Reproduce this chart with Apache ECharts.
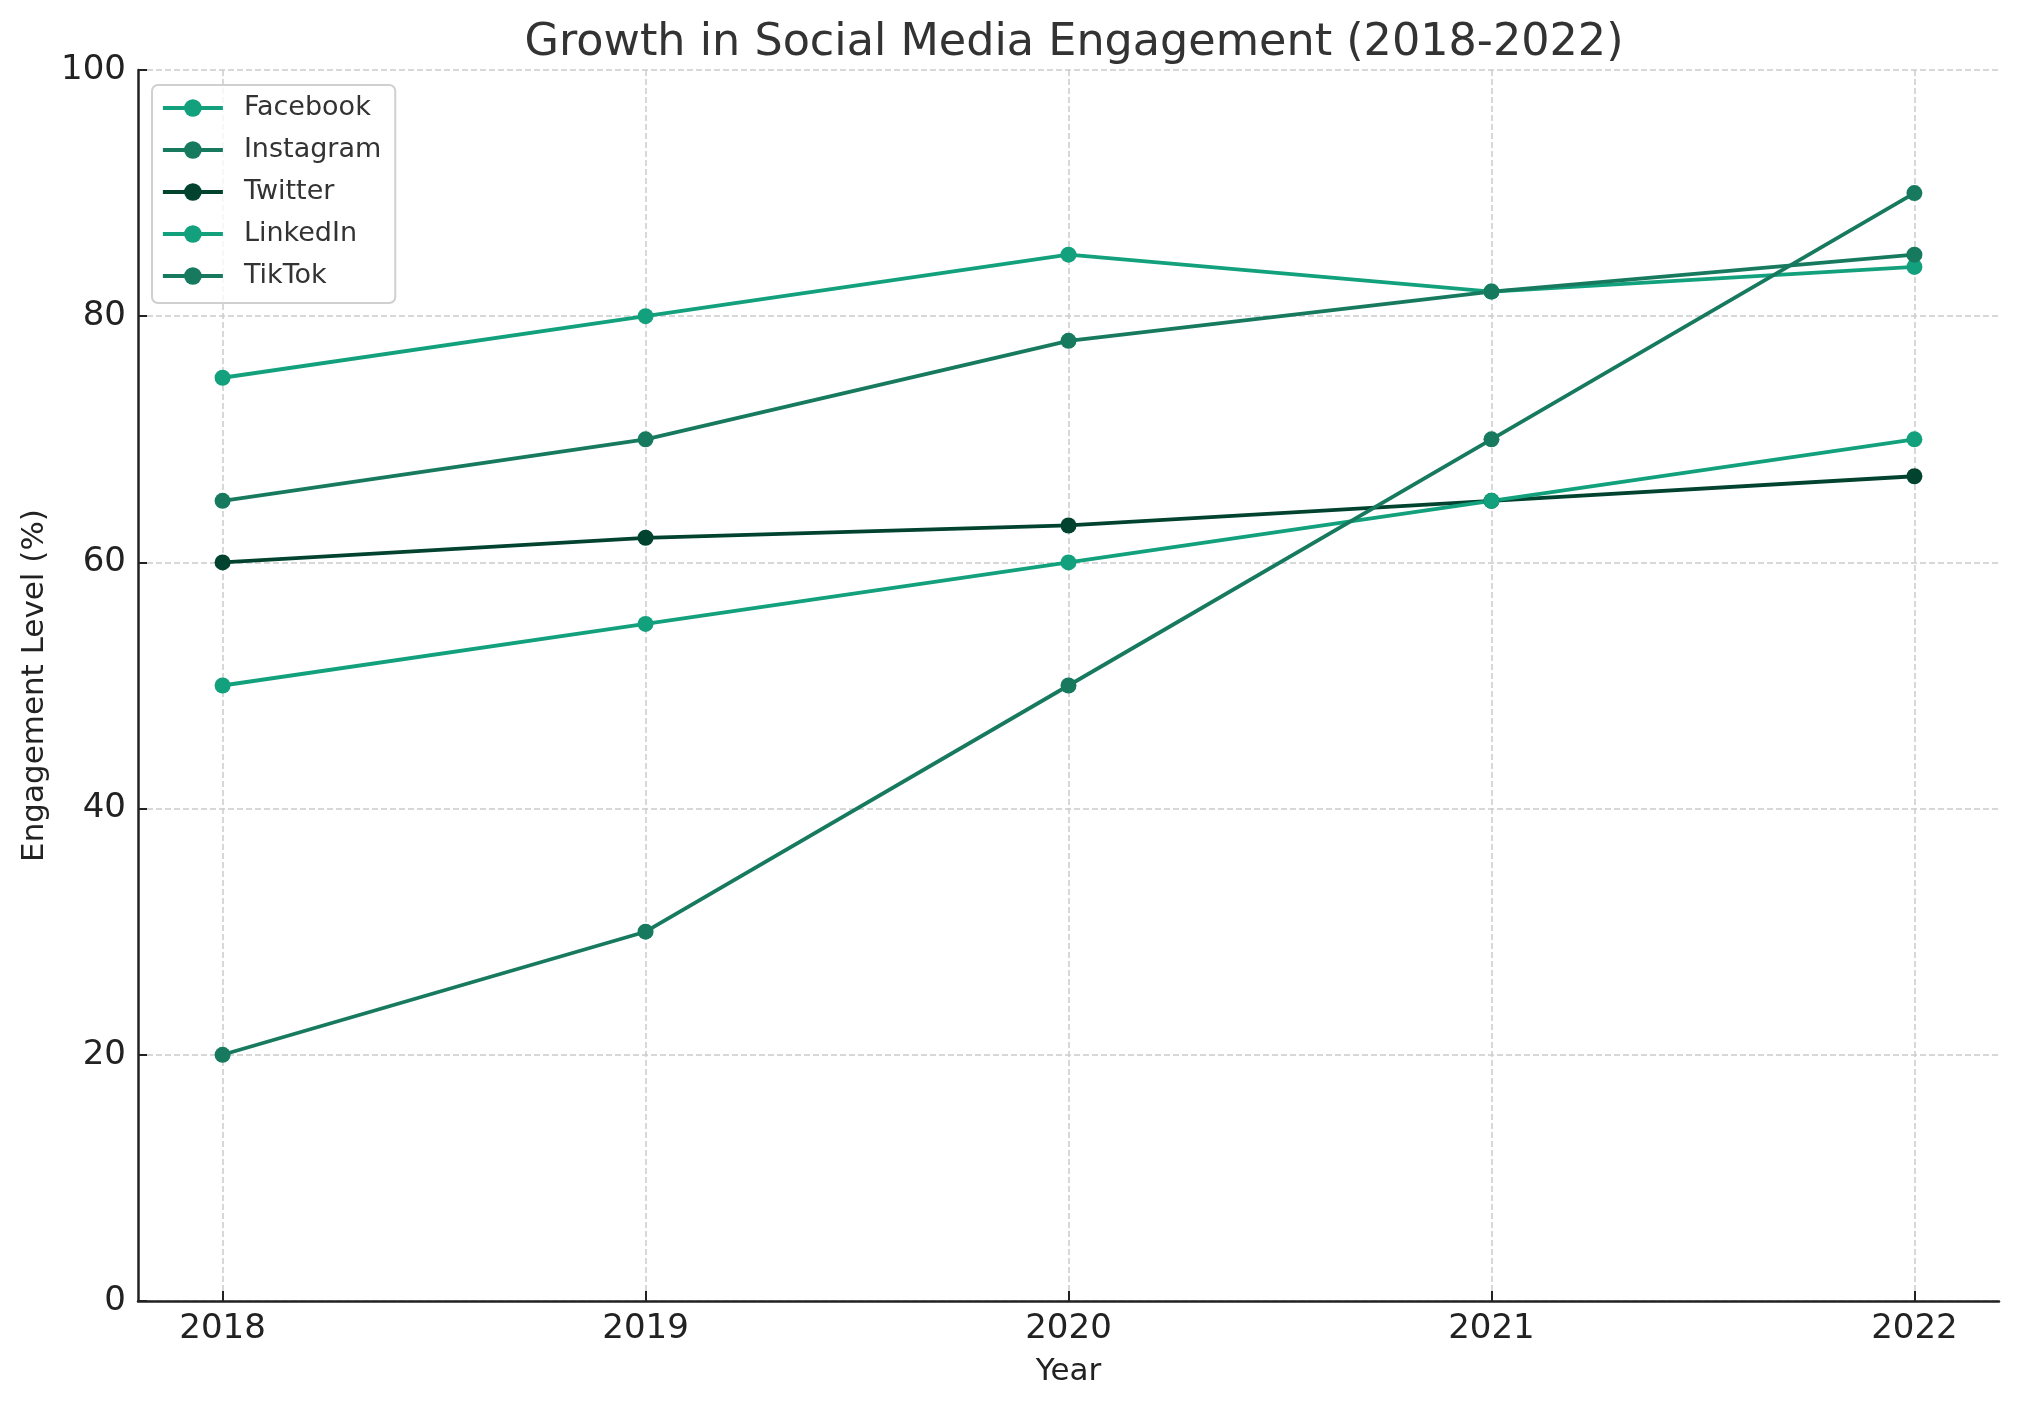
<!DOCTYPE html>
<html>
<head>
<meta charset="utf-8">
<script src="https://cdn.jsdelivr.net/npm/echarts@6/dist/echarts.min.js"></script>
<style>
html,body{margin:0;padding:0;background:#fff;}
#chart{width:2017px;height:1409px;}
</style>
</head>
<body>
<div id="chart"></div>
<script>
const years = [2018, 2019, 2020, 2021, 2022];
const facebook = [75, 80, 85, 82, 84];
const instagram = [65, 70, 78, 82, 85];
const twitter = [60, 62, 63, 65, 67];
const linkedin = [50, 55, 60, 65, 70];
const tiktok = [20, 30, 50, 70, 90];
const yTicks = [0, 20, 40, 60, 80, 100];

const seriesNames = ['Facebook', 'Instagram', 'Twitter', 'LinkedIn', 'TikTok'];
const seriesValues = [facebook, instagram, twitter, linkedin, tiktok];
const seriesColors = ['#12a17c', '#177a5f', '#01432f', '#12a17c', '#177a5f'];

const FONT = 'DejaVu Sans';
const chart = echarts.init(document.getElementById('chart'), null, {renderer: 'canvas'});

const series = seriesNames.map((name, i) => ({
  name: name,
  type: 'line',
  data: years.map((y, j) => [y, seriesValues[i][j]]),
  symbol: 'circle',
  symbolSize: 16,
  color: seriesColors[i],
  lineStyle: {width: 3.8, color: seriesColors[i]},
  itemStyle: {color: seriesColors[i]},
  emphasis: {disabled: true},
  animation: false
}));

chart.setOption({
  animation: false,
  backgroundColor: '#ffffff',
  title: {
    text: 'Growth in Social Media Engagement (2018-2022)',
    left: 1069,
    textAlign: 'center',
    top: 16,
    textStyle: {fontFamily: FONT, fontSize: 44.5, fontWeight: 'normal', color: '#333333'}
  },
  legend: {
    orient: 'vertical',
    left: 152,
    top: 85,
    data: seriesNames,
    itemWidth: 60,
    itemHeight: 22,
    itemGap: 12,
    padding: [8, 14, 12, 9],
    backgroundColor: 'rgba(255,255,255,0.8)',
    borderColor: '#d0d0d0',
    borderWidth: 2,
    borderRadius: 6,
    lineStyle: {width: 3.8},
    textStyle: {fontFamily: FONT, fontSize: 27, color: '#333333', lineHeight: 30, padding: [0, 0, 0, 16]}
  },
  grid: {left: 138, right: 18, top: 70, bottom: 108, containLabel: false, outerBoundsMode: 'none'},
  xAxis: {
    type: 'value',
    min: 2017.8,
    max: 2022.2,
    name: 'Year',
    nameLocation: 'middle',
    nameGap: 55,
    nameTextStyle: {fontFamily: FONT, fontSize: 31, color: '#222222'},
    axisLine: {show: true, lineStyle: {color: '#222222', width: 2.5}},
    axisTick: {show: true, inside: true, length: 10, customValues: years, lineStyle: {color: '#222222', width: 2}},
    axisLabel: {customValues: years, formatter: v => String(v), fontFamily: FONT, fontSize: 34, color: '#222222', margin: 11},
    splitLine: {show: true, customValues: years, lineStyle: {color: '#cccccc', width: 1.5, type: [6, 3]}}
  },
  yAxis: {
    type: 'value',
    min: 0,
    max: 100,
    interval: 20,
    name: 'Engagement Level (%)',
    nameLocation: 'middle',
    nameGap: 88,
    nameRotate: 90,
    nameTextStyle: {fontFamily: FONT, fontSize: 31, color: '#222222'},
    axisLine: {show: true, lineStyle: {color: '#222222', width: 2.5}},
    axisTick: {show: true, inside: true, length: 9, lineStyle: {color: '#222222', width: 2}},
    axisLabel: {formatter: v => String(v), fontFamily: FONT, fontSize: 34, color: '#222222', margin: 12},
    splitLine: {show: true, lineStyle: {color: '#cccccc', width: 1.5, type: [6, 3]}}
  },
  series: series
});
</script>
</body>
</html>
